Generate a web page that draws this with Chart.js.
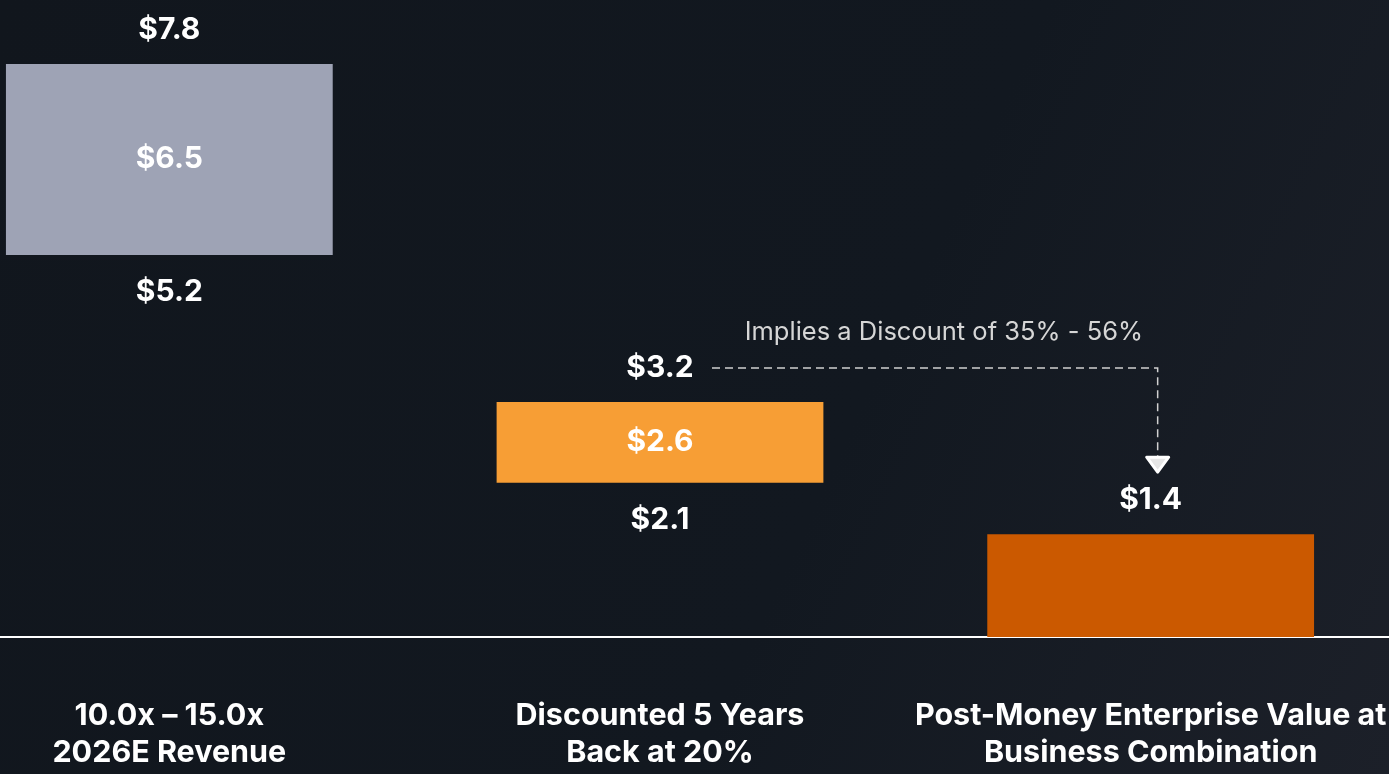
<!DOCTYPE html>
<html>
<head>
<meta charset="utf-8">
<script src="https://cdn.jsdelivr.net/npm/chart.js@4.4.1/dist/chart.umd.min.js"></script>
<style>
    html, body {
        margin: 0;
        padding: 0;
        width: 1389px;
        height: 774px;
        overflow: hidden;
        background: linear-gradient(115deg, #11161d 0%, #121820 60%, #1c2029 100%);
    }
    #valuationChart {
        position: absolute;
        left: -76px;
        top: 0;
        width: 1472px;
        height: 774px;
    }
</style>
</head>
<body>
<canvas id="valuationChart" width="1472" height="774"></canvas>
<script>
const categories = [
    ['10.0x \u2013 15.0x', '2026E Revenue'],
    ['Discounted 5 Years', 'Back at 20%'],
    ['Post-Money Enterprise Value at', 'Business Combination']
];
const lowValues = [5.2, 2.1, 0];
const highValues = [7.8, 3.2, 1.4];
const midValues = [6.5, 2.6, null];
const barColors = ['#9ea3b5', '#f79e35', '#cb5900'];
const discountText = 'Implies a Discount of 35% - 56%';

const valueFont = '700 30px Inter, "Noto Sans", sans-serif';

// value labels above, inside and below each floating bar
const barLabels = {
    id: 'barLabels',
    afterDatasetsDraw(chart) {
        const ctx = chart.ctx;
        const meta = chart.getDatasetMeta(0);
        ctx.save();
        ctx.font = valueFont;
        ctx.fillStyle = '#ffffff';
        ctx.textAlign = 'center';
        ctx.textBaseline = 'middle';
        meta.data.forEach((bar, i) => {
            const top = chart.scales.y.getPixelForValue(highValues[i]);
            const bottom = chart.scales.y.getPixelForValue(lowValues[i]);
            ctx.fillText('$' + highValues[i].toFixed(1), bar.x, top - 34);
            if (lowValues[i] > 0) {
                ctx.fillText('$' + lowValues[i].toFixed(1), bar.x, bottom + 37);
            }
            if (midValues[i] !== null) {
                ctx.fillText('$' + midValues[i].toFixed(1), bar.x, (top + bottom) / 2);
            }
        });
        ctx.restore();
    }
};

// dashed connector from the discounted high to the post-money value
const discountArrow = {
    id: 'discountArrow',
    afterDatasetsDraw(chart) {
        const ctx = chart.ctx;
        const meta = chart.getDatasetMeta(0);
        const y = chart.scales.y;
        const lineY = y.getPixelForValue(highValues[1]) - 34;
        const x0 = meta.data[1].x + 52;
        const x1 = meta.data[2].x + 7;
        const tipY = y.getPixelForValue(highValues[2]) - 62;

        ctx.save();
        ctx.strokeStyle = '#d0d0d0';
        ctx.lineWidth = 1.5;
        ctx.setLineDash([8, 5]);
        ctx.beginPath();
        ctx.moveTo(x0, lineY);
        ctx.lineTo(x1, lineY);
        ctx.lineTo(x1, tipY - 14);
        ctx.stroke();

        ctx.setLineDash([]);
        ctx.fillStyle = '#e6e6e6';
        ctx.strokeStyle = '#ffffff';
        ctx.lineWidth = 3;
        ctx.lineJoin = 'round';
        ctx.beginPath();
        ctx.moveTo(x1 - 11, tipY - 15);
        ctx.lineTo(x1 + 11, tipY - 15);
        ctx.lineTo(x1, tipY);
        ctx.closePath();
        ctx.fill();
        ctx.stroke();

        ctx.font = '400 25.5px Inter, "Noto Sans", sans-serif';
        ctx.fillStyle = '#d6d6d6';
        ctx.textAlign = 'center';
        ctx.textBaseline = 'middle';
        ctx.fillText(discountText, (x0 + x1) / 2 + 9, lineY - 36);
        ctx.restore();
    }
};

new Chart(document.getElementById('valuationChart'), {
    type: 'bar',
    data: {
        labels: categories,
        datasets: [{
            data: lowValues.map((v, i) => [v, highValues[i]]),
            backgroundColor: barColors,
            borderWidth: 0,
            barPercentage: 0.666,
            categoryPercentage: 1.0
        }]
    },
    options: {
        responsive: false,
        animation: false,
        devicePixelRatio: 1,
        layout: {
            padding: 0
        },
        plugins: {
            legend: { display: false },
            tooltip: { enabled: false }
        },
        scales: {
            x: {
                grid: { display: false, drawTicks: false },
                border: { display: true, color: '#ffffff', width: 2 },
                ticks: {
                    color: '#ffffff',
                    font: { family: 'Inter, "Noto Sans", sans-serif', size: 30.5, weight: '700', lineHeight: 1.23 },
                    padding: 60,
                    maxRotation: 0,
                    minRotation: 0,
                    autoSkip: false
                },
                // keep the axis at a fixed height and stop it padding the sides
                afterFit(scale) {
                    scale.height = 137;
                    scale.paddingLeft = 0;
                    scale.paddingRight = 0;
                }
            },
            y: {
                display: false,
                min: 0,
                max: 8.67
            }
        }
    },
    plugins: [barLabels, discountArrow]
});
</script>
</body>
</html>
